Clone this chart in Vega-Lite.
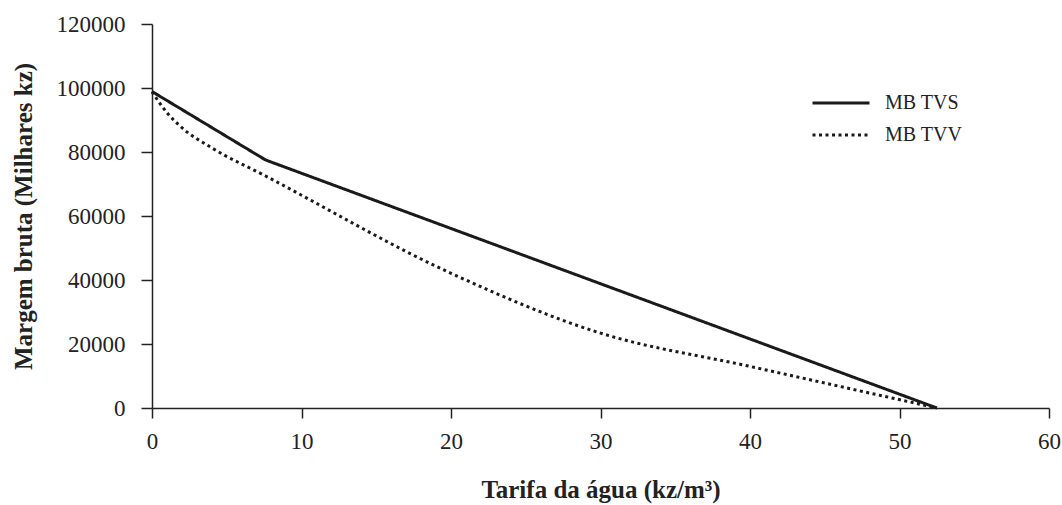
{
  "$schema": "https://vega.github.io/schema/vega-lite/v6.json",
  "autosize": {"type": "none"},
  "padding": {"left": 152, "top": 24, "right": 13, "bottom": 97},
  "width": 897,
  "height": 384,
  "background": "white",
  "config": {
    "view": {"stroke": null},
    "font": "Liberation Serif",
    "axis": {
      "grid": false,
      "domainColor": "#222",
      "domainWidth": 1.5,
      "tickColor": "#222",
      "tickWidth": 1.5,
      "labelColor": "#222",
      "titleColor": "#222",
      "labelFont": "Liberation Serif",
      "titleFont": "Liberation Serif",
      "labelFontSize": 23,
      "titleFontSize": 25,
      "titleFontWeight": "bold"
    },
    "legend": {
      "labelFont": "Liberation Serif",
      "labelFontSize": 20,
      "labelColor": "#222"
    }
  },
  "data": {
    "values": [
      {"tarifa": 0, "margem": 98900, "serie": "MB TVS"},
      {"tarifa": 7.6, "margem": 77500, "serie": "MB TVS"},
      {"tarifa": 52.5, "margem": 0, "serie": "MB TVS"},
      {"tarifa": 0, "margem": 98800, "serie": "MB TVV"},
      {"tarifa": 1, "margem": 92300, "serie": "MB TVV"},
      {"tarifa": 2, "margem": 87600, "serie": "MB TVV"},
      {"tarifa": 4, "margem": 81300, "serie": "MB TVV"},
      {"tarifa": 7.6, "margem": 72500, "serie": "MB TVV"},
      {"tarifa": 20, "margem": 42100, "serie": "MB TVV"},
      {"tarifa": 30, "margem": 23400, "serie": "MB TVV"},
      {"tarifa": 40, "margem": 13000, "serie": "MB TVV"},
      {"tarifa": 52.5, "margem": 0, "serie": "MB TVV"}
    ]
  },
  "encoding": {
    "x": {
      "field": "tarifa",
      "type": "quantitative",
      "scale": {"domain": [0, 60], "nice": false, "zero": true},
      "axis": {
        "values": [0, 10, 20, 30, 40, 50, 60],
        "tickSize": 10,
        "labelPadding": 12,
        "title": "Tarifa da água (kz/m³)",
        "titlePadding": 24,
        "labelFlush": false
      }
    },
    "y": {
      "field": "margem",
      "type": "quantitative",
      "scale": {"domain": [0, 120000], "nice": false},
      "axis": {
        "values": [0, 20000, 40000, 60000, 80000, 100000, 120000],
        "format": "d",
        "tickSize": 11,
        "labelPadding": 16,
        "title": "Margem bruta (Milhares kz)",
        "titlePadding": 20
      }
    },
    "strokeDash": {
      "field": "serie",
      "type": "nominal",
      "scale": {"domain": ["MB TVS", "MB TVV"], "range": [[1, 0], [3, 3.5]]},
      "legend": {
        "title": null,
        "orient": "none",
        "legendX": 678,
        "legendY": 68,
        "symbolType": "M-3,0H3",
        "symbolSize": 361,
        "symbolStrokeWidth": 3,
        "symbolStrokeColor": "#1a1a1a",
        "labelOffset": 33,
        "rowPadding": 11
      }
    }
  },
  "layer": [
    {
      "transform": [{"filter": "datum.serie === 'MB TVS'"}],
      "mark": {"type": "line", "color": "#1a1a1a", "strokeWidth": 3, "interpolate": "linear", "clip": false}
    },
    {
      "transform": [{"filter": "datum.serie === 'MB TVV'"}],
      "mark": {"type": "line", "color": "#1a1a1a", "strokeWidth": 3, "interpolate": "monotone", "clip": false}
    }
  ]
}
